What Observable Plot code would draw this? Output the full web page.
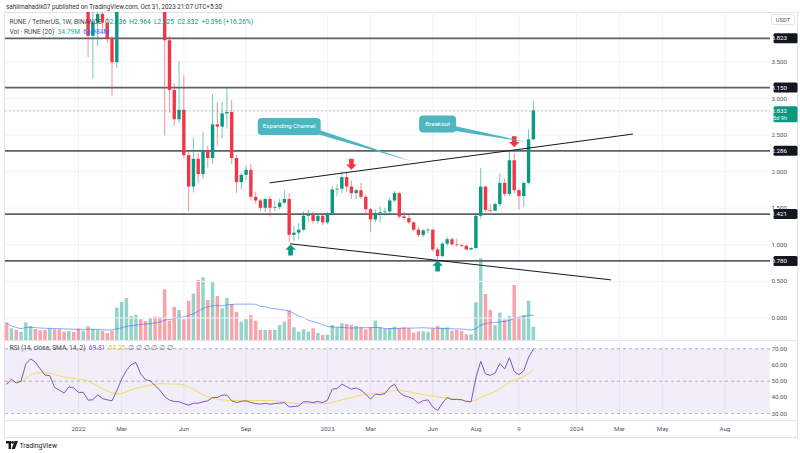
<!DOCTYPE html>
<html><head><meta charset="utf-8">
<script src="https://cdn.jsdelivr.net/npm/d3@7"></script>
<script src="https://cdn.jsdelivr.net/npm/@observablehq/plot@0.6"></script>
<style>
body{margin:0;background:#fff;font-family:Roboto,"Noto Sans",sans-serif;}
#wrap{position:relative;width:800px;height:453px;overflow:hidden;background:#fff;}
.layer{position:absolute;left:0;}
.t{position:absolute;white-space:nowrap;font-size:6.3px;line-height:1;color:#434651;}
.line{position:absolute;background:#e0e3eb;}
</style></head><body><div id="wrap">
<div class="line" style="left:4px;top:12px;width:794px;height:1px"></div>
<div class="line" style="left:4px;top:12px;width:1px;height:425px"></div>
<div class="line" style="left:797px;top:12px;width:1px;height:425px"></div>
<div class="line" style="left:4px;top:437px;width:794px;height:1px"></div>
<div class="line" style="left:4px;top:340px;width:794px;height:1px"></div>
<div class="line" style="left:4px;top:420px;width:794px;height:1px"></div>
</div>
<script>
// ---------- data (weekly candles, first week 2021-09-20) ----------
const weekStart = "2021-09-20";
const open = [9.5,8.5,9.6,9.0,9.4,12.0,14.0,13.0,11.5,10.2,10.5,8.5,7.9,7.3,8.0,7.7,6.9,7.0,3.85,4.03,4.15,4.03,3.82,3.49,5.50,7.50,9.50,10.5,11.0,9.0,8.0,8.5,7.0,
6.2,3.79,3.11,2.71,2.84,2.22,1.79,2.17,1.96,2.28,2.18,2.64,2.61,2.79,2.81,2.18,1.85,1.95,2.02,1.65,1.60,1.50,1.62,1.50,1.51,1.57,
1.62,1.13,1.16,1.20,1.39,1.40,1.32,1.39,1.30,1.42,1.75,1.76,1.92,1.79,1.70,1.74,1.65,1.48,1.34,1.43,1.44,1.45,1.60,1.70,
1.38,1.36,1.30,1.20,1.13,1.19,1.20,0.93,0.84,1.01,1.07,1.00,0.99,0.98,0.93,0.95,1.39,1.79,1.47,1.46,1.55,1.84,1.69,2.15,1.74,1.66,1.84,2.436];
const high = [10.2,9.9,10.0,9.8,12.4,14.8,14.6,13.4,12.0,11.0,10.8,9.0,8.3,8.4,8.6,8.2,7.6,7.2,4.25,4.45,4.40,4.10,3.85,5.90,7.80,9.80,11.0,11.3,11.2,9.4,8.9,8.7,7.3,
6.4,3.85,3.20,3.51,3.31,2.27,2.46,2.25,2.54,2.35,3.05,2.95,2.95,3.15,2.97,2.22,1.98,2.08,2.10,1.72,1.62,1.64,1.66,1.60,1.62,1.74,
1.70,1.25,1.29,1.45,1.47,1.45,1.42,1.42,1.44,1.80,1.82,2.00,1.99,1.87,1.76,1.84,1.68,1.50,1.48,1.52,1.50,1.64,1.73,1.72,
1.45,1.40,1.32,1.24,1.21,1.22,1.22,0.96,1.03,1.10,1.10,1.08,1.01,1.00,0.96,1.43,2.04,1.80,1.55,1.58,1.97,1.90,2.28,2.245,1.76,1.86,2.57,2.964];
const low = [8.2,8.3,8.8,8.7,9.2,11.6,12.4,11.0,9.8,9.6,8.2,7.6,6.9,7.0,7.4,6.6,6.5,3.56,3.27,3.71,3.95,3.75,3.03,3.41,5.30,7.20,9.0,9.8,8.6,7.6,7.4,6.7,5.9,
2.49,2.80,2.62,2.66,2.18,1.45,1.71,1.84,1.90,2.05,2.10,2.35,2.45,2.58,2.10,1.70,1.75,1.88,1.60,1.55,1.45,1.44,1.38,1.45,1.48,1.55,
1.03,1.05,1.07,1.18,1.30,1.28,1.28,1.26,1.28,1.40,1.66,1.70,1.72,1.62,1.62,1.62,1.40,1.17,1.30,1.30,1.40,1.42,1.58,1.35,
1.33,1.28,1.18,1.10,1.10,1.15,0.90,0.80,0.82,0.98,0.98,0.97,0.96,0.92,0.92,0.94,1.35,1.44,1.44,1.45,1.52,1.66,1.66,1.70,1.48,1.51,1.82,2.425];
const close = [8.5,9.6,9.0,9.4,12.0,14.0,13.0,11.5,10.2,10.5,8.5,7.9,7.3,8.0,7.7,6.9,7.0,3.85,4.03,4.15,4.03,3.82,3.49,5.50,7.50,9.50,10.5,11.0,9.0,8.0,8.5,7.0,6.2,
3.79,3.11,2.71,2.84,2.22,1.79,2.17,1.96,2.28,2.18,2.64,2.61,2.79,2.81,2.18,1.85,1.95,2.02,1.65,1.60,1.50,1.62,1.50,1.51,1.57,1.62,
1.13,1.16,1.20,1.39,1.40,1.32,1.39,1.30,1.42,1.75,1.76,1.92,1.79,1.70,1.74,1.65,1.48,1.34,1.43,1.44,1.45,1.60,1.70,1.38,
1.36,1.30,1.20,1.13,1.19,1.20,0.93,0.84,1.01,1.07,1.00,0.99,0.98,0.93,0.95,1.39,1.79,1.47,1.46,1.55,1.84,1.69,2.15,1.74,1.66,1.84,2.436,2.832];
// volume in millions RUNE
const volume = [45.3,30.6,26.2,21.7,46.3,36.7,28.8,25.4,26.2,30.6,28,28,21.7,23.6,20.9,29.6,24.3,35.9,28.8,26.2,24.3,18.3,24.3,84.6,99.5,110,62.8,65.5,54.2,49.7,57.6,61,60.2,
132.7,50.5,86.4,78.5,54.2,102.9,121.2,157.1,164.1,104.7,151,115.2,83,110,94.2,73.3,47.9,54.2,65.4,50.5,26.2,26.2,26.2,26.2,39.3,47.9,
77.8,33.2,21.7,28,21.7,30.6,18.3,13.1,13.9,39.3,33.2,43.7,41.9,40.1,36.7,33.2,28,33.2,50.5,33.2,28.8,31.4,34.8,31.4,
33.2,30.6,19.1,22.8,22.8,21.7,30.6,36.7,32.2,33.2,24.3,26.2,24.3,14.9,14.9,98.7,213.9,120.4,78.5,39.3,71.5,54.2,62.8,144,61,65.5,102.9,34.79];
// RSI(14)
const rsi = [48.2,51.3,48.9,49.9,60.7,63.8,61.7,57.6,53.8,53.4,46.2,44.5,42.6,46.6,45.8,43.1,43.1,38.3,38.5,41.6,39.3,38.5,37.9,44.1,51.3,56.5,60.3,61.5,54.5,50.9,50.3,47.2,44.5,
40.4,38.3,37.5,37.3,36.2,35.2,36.4,36.4,37.3,37.9,39.9,39.9,41.4,41.4,37.9,36.8,37.5,37.9,36.8,36.2,35.8,36.4,35.8,36.2,36.4,36.8,
34.1,34.4,34.8,37.3,37.3,36.8,37.5,36.8,38.3,45.1,45.5,48.2,46.6,45.1,45.8,44.5,42,38.9,42,41.6,42.4,46.2,48.2,43.1,
41,40.3,38.9,36.4,38,38.5,34,31.9,36.5,40,38.6,38.8,38.6,37.5,37.3,52,62.3,54.5,53.6,55,61,57.5,64.5,56,54,56.5,64.8,69.81];

const levels = [3.823, 3.150, 2.286, 1.421, 0.780];
const priceTicks = [0, 0.5, 1, 1.5, 2, 2.5, 3, 3.5];
const rsiTicks = [30, 40, 50, 60, 70];
const tickDates = ["2022-01-03","2022-03-07","2022-06-06","2022-09-05","2023-01-02","2023-03-06","2023-06-05","2023-08-07","2023-10-09","2024-01-01","2024-03-04","2024-05-06","2024-08-05"];
const tickLabels = ["2022","Mar","Jun","Sep","2023","Mar","Jun","Aug","9","2024","Mar","May","Aug"];

const channelUpper = [{date:"2022-10-10", price:1.848},{date:"2024-03-23", price:2.514}];
const channelLower = [{date:"2022-11-09", price:1.014},{date:"2024-02-20", price:0.522}];
const arrowsUp = [{date:"2022-11-09", price:0.93},{date:"2023-06-12", price:0.711}];
const arrowsDown = [{date:"2023-02-06", price:2.101},{date:"2023-10-02", price:2.409}];
const calloutExp = {text:"Expanding Channel", date:"2022-11-07", price:2.618, tail:[{date:"2022-12-11", price:2.563},{date:"2023-05-08", price:2.13}]};
const calloutBrk = {text:"Breakout", date:"2023-06-12", price:2.652, tail:[{date:"2023-07-04", price:2.59},{date:"2023-10-23", price:2.395}]};

// ---------- helpers ----------
const UP = "#089981", DOWN = "#f23645";
const rows = close.map((c, i) => ({
  date: d3.utcMonday.offset(new Date(weekStart), i),
  open: open[i], high: high[i], low: low[i], close: c, volume: volume[i], rsi: rsi[i],
  up: c >= open[i]
}));
const xDomain = [new Date("2021-09-18T06:43:00Z"), new Date("2024-10-10T16:48:00Z")];
const pd = s => new Date(s + "T00:00:00Z");
const W = 800, ML = 5, MR = 30;
const FONT = "Roboto, 'Noto Sans', sans-serif";

function boxSym(w, h, rad, oy = 0) {
  return {draw(ctx) {
    const x0 = -w / 2, y0 = -h / 2 + oy;
    ctx.moveTo(x0 + rad, y0);
    ctx.arcTo(x0 + w, y0, x0 + w, y0 + h, rad);
    ctx.arcTo(x0 + w, y0 + h, x0, y0 + h, rad);
    ctx.arcTo(x0, y0 + h, x0, y0, rad);
    ctx.arcTo(x0, y0, x0 + w, y0, rad);
    ctx.closePath();
  }};
}
function arrowSym(dir) {
  return {draw(ctx, size) {
    const r = Math.sqrt(size / Math.PI), s = dir;
    ctx.moveTo(0, -r * s);
    ctx.lineTo(r * 0.95, -r * 0.05 * s);
    ctx.lineTo(r * 0.42, -r * 0.05 * s);
    ctx.lineTo(r * 0.42, r * s);
    ctx.lineTo(-r * 0.42, r * s);
    ctx.lineTo(-r * 0.42, -r * 0.05 * s);
    ctx.lineTo(-r * 0.95, -r * 0.05 * s);
    ctx.closePath();
  }};
}
function tailArea(c) {
  const hw = 0.034;
  return [
    {date: pd(c.tail[0].date), y1: c.tail[0].price - hw, y2: c.tail[0].price + hw},
    {date: pd(c.tail[1].date), y1: c.tail[1].price, y2: c.tail[1].price}
  ];
}
const base = {width: W, marginLeft: ML, marginRight: MR, marginTop: 0, marginBottom: 0,
  style: {background: "transparent", fontFamily: FONT}};

// ---------- volume layer ----------
const volChart = Plot.plot({...base, height: 328,
  x: {type: "utc", domain: xDomain, axis: null},
  y: {domain: [0, 858.6], axis: null},
  marks: [
    Plot.ruleX(tickDates.map(pd), {stroke: "#f0f3fa"}),
    Plot.ruleX(rows, {x: "date", y1: 0, y2: "volume", strokeWidth: 3.5,
      stroke: d => d.up ? "rgba(8,153,129,0.43)" : "rgba(242,54,69,0.45)"}),
    Plot.lineY(rows, Plot.windowY({k: 20, anchor: "end"}, {x: "date", y: "volume", stroke: "#2962ff", strokeOpacity: 0.55, strokeWidth: 1}))
  ]
});

// ---------- price layer ----------
const last = close[close.length - 1];
const priceChart = Plot.plot({...base, height: 328,
  x: {type: "utc", domain: xDomain, axis: null},
  y: {domain: [-0.3076, 4.1764], axis: null},
  marks: [
    Plot.ruleY(priceTicks, {stroke: "#f0f3fa"}),
    Plot.ruleY(levels, {stroke: "#5d606b", strokeWidth: 1.7}),
    Plot.ruleY([last], {stroke: UP, strokeOpacity: 0.55, strokeDasharray: "2,2", strokeWidth: 0.8}),
    Plot.ruleX(rows, {x: "date", y1: "low", y2: "high", stroke: d => d.up ? UP : DOWN, strokeOpacity: 0.55, strokeWidth: 1, clip: true}),
    Plot.ruleX(rows, {x: "date", y1: "open", y2: "close", stroke: d => d.up ? UP : DOWN, strokeWidth: 3.4, clip: true}),
    Plot.line(channelUpper, {x: d => pd(d.date), y: "price", stroke: "#131722", strokeWidth: 1}),
    Plot.line(channelLower, {x: d => pd(d.date), y: "price", stroke: "#131722", strokeWidth: 1}),
    Plot.dot(arrowsUp, {x: d => pd(d.date), y: "price", r: 5.5, symbol: arrowSym(1), fill: UP, stroke: null}),
    Plot.dot(arrowsDown, {x: d => pd(d.date), y: "price", r: 5.5, symbol: arrowSym(-1), fill: DOWN, stroke: null}),
    Plot.areaY(tailArea(calloutExp), {x: "date", y1: "y1", y2: "y2", fill: "rgb(77,182,193)"}),
    Plot.areaY(tailArea(calloutBrk), {x: "date", y1: "y1", y2: "y2", fill: "rgb(77,182,193)"}),
    Plot.dot([calloutExp], {x: d => pd(d.date), y: "price", symbol: boxSym(63, 17, 4), fill: "rgb(77,182,193)", stroke: null}),
    Plot.dot([calloutBrk], {x: d => pd(d.date), y: "price", symbol: boxSym(37, 17, 4), fill: "rgb(77,182,193)", stroke: null}),
    Plot.text([calloutExp, calloutBrk], {x: d => pd(d.date), y: "price", text: "text", fill: "white", fontSize: 6.2}),
    Plot.text(priceTicks, {y: d => d, frameAnchor: "right", dx: 16.5, text: d => d.toFixed(3), fill: "#50535e", fontSize: 6.2}),
    Plot.dot(levels, {y: d => d, frameAnchor: "right", dx: 15, symbol: boxSym(24, 10, 1.5), fill: "#131722", stroke: null}),
    Plot.text(levels, {y: d => d, frameAnchor: "right", dx: 16.5, text: d => d.toFixed(3), fill: "white", fontSize: 6.2}),
    Plot.dot([last], {y: d => d, frameAnchor: "right", dx: 15, symbol: boxSym(24, 16, 1.5, 3.5), fill: UP, stroke: null}),
    Plot.text([last], {y: d => d, frameAnchor: "right", dx: 16.5, text: d => d.toFixed(3), fill: "white", fontSize: 6.2}),
    Plot.text([last], {y: d => d, frameAnchor: "right", dx: 16.5, dy: 7.2, text: () => "5d 9h", fill: "white", fontSize: 5.6})
  ]
});

// ---------- RSI layer ----------
const rsiChart = Plot.plot({...base, height: 80,
  x: {type: "utc", domain: xDomain, axis: null},
  y: {domain: [25.74, 75.12], axis: null},
  marks: [
    Plot.ruleX(tickDates.map(pd), {stroke: "#f0f3fa"}),
    Plot.rect([0], {x1: () => xDomain[0], x2: () => xDomain[1], y1: 30, y2: 70, fill: "#7e57c2", fillOpacity: 0.1}),
    Plot.ruleY([70, 50, 30], {stroke: "#9598a1", strokeDasharray: "3,3", strokeWidth: 0.7}),
    Plot.lineY(rows, Plot.windowY({k: 14, anchor: "end"}, {x: "date", y: "rsi", stroke: "#f5dc5a", strokeWidth: 1})),
    Plot.lineY(rows, {x: "date", y: "rsi", stroke: "#7e57c2", strokeWidth: 1}),
    Plot.text(rsiTicks, {y: d => d, frameAnchor: "right", dx: 16.5, text: d => d.toFixed(2), fill: "#50535e", fontSize: 6.2})
  ]
});

// ---------- time axis ----------
const timeChart = Plot.plot({...base, height: 17,
  x: {type: "utc", domain: xDomain, axis: null},
  marks: [
    Plot.text(tickDates, {x: pd, frameAnchor: "middle", text: (d, i) => tickLabels[i], fill: "#50535e", fontSize: 6.2})
  ]
});

const wrap = document.getElementById("wrap");
function place(svg, top, z) {
  svg.classList.add("layer");
  svg.style.top = top + "px";
  svg.style.zIndex = z;
  svg.style.overflow = "visible";
  wrap.appendChild(svg);
}
place(volChart, 12, 1);
place(priceChart, 12, 2);
place(rsiChart, 340, 1);
place(timeChart, 420, 1);

function addText(html, left, top, extra = "") {
  const d = document.createElement("div");
  d.className = "t";
  d.style.left = left + "px";
  d.style.top = top + "px";
  d.style.zIndex = 5;
  if (extra) d.style.cssText += extra;
  d.innerHTML = html;
  wrap.appendChild(d);
}
addText("sahilmahadik07 published on TradingView.com, Oct 31, 2023 21:07 UTC+5:30", 6, 3.5, "color:#333;");
addText('RUNE / TetherUS, 1W, BINANCE&nbsp; <span style="color:#089981">O2.436&nbsp; H2.964&nbsp; L2.425&nbsp; C2.832&nbsp; +0.396 (+16.26%)</span>', 9.5, 19.3, "font-size:6.6px;");
addText('Vol · RUNE (20)&nbsp; <span style="color:#22ab94">34.79M</span>&nbsp; <span style="color:#2962ff">66.984M</span>', 9.5, 28.8, "font-size:6.6px;");
addText('RSI (14, close, SMA, 14, 2)&nbsp; <span style="color:#7e57c2">69.81</span>&nbsp; <span style="color:#e8c62c">57.25</span>&nbsp; <span style="color:#787b86">∅&nbsp;∅&nbsp;∅&nbsp;∅&nbsp;∅&nbsp;∅</span>', 9.5, 345, "font-size:6.6px;");
addText('USDT', 771, 14, "width:24px;height:11px;line-height:11px;text-align:center;border:1px solid #e0e3eb;border-radius:3px;background:#fff;font-size:5.8px;color:#50535e;box-sizing:border-box;");
addText('<svg width="12" height="8" style="vertical-align:-1px"><path d="M0 0h5v8h-2.4V2.4H0z" fill="#131722"/><circle cx="6.6" cy="1.4" r="1.4" fill="#131722"/><path d="M8.6 0h3.4l-3.2 8H5.6z" fill="#131722"/></svg> <span style="color:#131722;font-size:6.8px">TradingView</span>', 6, 441);
</script></body></html>
